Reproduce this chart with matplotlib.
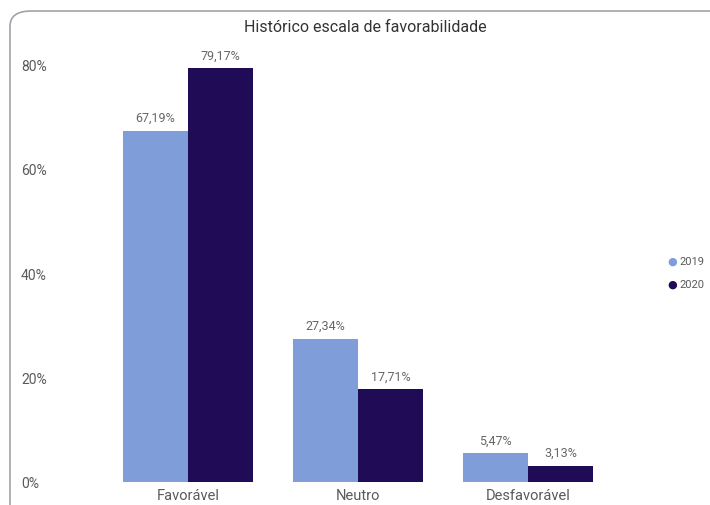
import numpy as np
import matplotlib.pyplot as plt
from matplotlib.patches import FancyBboxPatch

categories = ["Favorável", "Neutro", "Desfavorável"]
series = ["2019", "2020"]
values_2019 = [67.19, 27.34, 5.47]
values_2020 = [79.17, 17.71, 3.13]
yticks = [0, 20, 40, 60, 80]

plt.rcParams['font.family'] = ['Roboto', 'DejaVu Sans']
c2019 = "#7f9dd8"
c2020 = "#1f0b56"
grey = "#5a5a5a"

W, H = 710, 506
fig = plt.figure(figsize=(W / 100, H / 100), dpi=100)

# rounded frame around the visual
frame = FancyBboxPatch((10 / W, -20 / H), (W + 20) / W, (H - 12 + 20) / H,
                       boxstyle="round,pad=0,rounding_size=0.03",
                       transform=fig.transFigure, fill=False,
                       edgecolor="#a0a4aa", linewidth=1.2)
fig.patches.append(frame)

left, right, bottom, top = 60, 640, 483, 50
ax = fig.add_axes([left / W, 1 - bottom / H, (right - left) / W, (bottom - top) / H])
ax.set_xlim(-(188 - left) / 170, 2 + (right - 528) / 170)
ax.set_ylim(0, (bottom - top) / ((483 - 65) / 80))

x = np.arange(len(categories))
w = 65 / 170
b1 = ax.bar(x - w / 2, values_2019, w, color=c2019, label="2019")
b2 = ax.bar(x + w / 2, values_2020, w, color=c2020, label="2020")

for bars, vals in [(b1, values_2019), (b2, values_2020)]:
    for rect, v in zip(bars, vals):
        ax.annotate(f"{v:.2f}%".replace(".", ","),
                    (rect.get_x() + rect.get_width() / 2, rect.get_height()),
                    xytext=(0, 5), textcoords="offset points",
                    ha="center", va="bottom", fontsize=9, color="#666666")

for s in ax.spines.values():
    s.set_visible(False)
ax.set_xticks(x)
ax.set_xticklabels(categories, fontsize=10.5, color=grey)
ax.set_yticks(yticks)
ax.set_yticklabels([f"{t}%" for t in yticks], fontsize=10, color=grey, ha="left")
ax.tick_params(axis="both", length=0)
ax.tick_params(axis="y", pad=28)
ax.tick_params(axis="x", pad=4)

fig.text(365 / W, 1 - 27 / H, "Histórico escala de favorabilidade",
         ha="center", va="center", fontsize=11.5, color="#333333")

# legend
for i, (lab, col) in enumerate(zip(series, [c2019, c2020])):
    y = 1 - (262 + 23 * i) / H
    fig.text(672 / W, y, "●", ha="center", va="center", fontsize=8,
             color=col, family="DejaVu Sans")
    fig.text(679 / W, y, lab, ha="left", va="center", fontsize=8, color=grey)

fig.savefig("out.png", dpi=100)
